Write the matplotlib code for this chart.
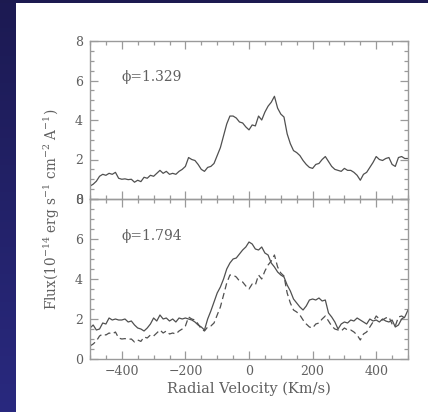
import numpy as np
import matplotlib
matplotlib.use("Agg")
import matplotlib.pyplot as plt
from matplotlib.patches import Rectangle
from matplotlib.ticker import MultipleLocator
from matplotlib.colors import LinearSegmentedColormap

# ---- data ----
velocity = np.arange(-500, 501, 10)

flux_phase_1329 = [
    0.65, 0.75, 0.9, 1.15, 1.25, 1.2, 1.3, 1.25, 1.35, 1.05,
    1.0, 1.02, 0.98, 1.0, 0.85, 0.95, 0.88, 1.1, 1.05, 1.2,
    1.15, 1.3, 1.45, 1.3, 1.4, 1.25, 1.3, 1.25, 1.4, 1.5,
    1.65, 2.1, 2.0, 1.95, 1.75, 1.5, 1.4, 1.6, 1.65, 1.8,
    2.2, 2.6, 3.2, 3.8, 4.2, 4.2, 4.1, 3.9, 3.85, 3.65,
    3.5, 3.75, 3.7, 4.2, 4.0, 4.4, 4.7, 4.9, 5.2, 4.6,
    4.3, 4.15, 3.3, 2.8, 2.45, 2.35, 2.2, 1.95, 1.75, 1.6,
    1.55, 1.75, 1.8, 2.0, 2.15, 1.9, 1.65, 1.5, 1.45, 1.4,
    1.55, 1.45, 1.45, 1.35, 1.2, 0.95, 1.25, 1.35, 1.6, 1.85,
    2.15, 2.0, 1.95, 2.05, 2.1, 1.75, 1.65, 2.1, 2.15, 2.05,
    2.05,
]

flux_phase_1794 = [
    1.55, 1.7, 1.45, 1.5, 1.8, 1.75, 2.05, 1.95, 2.0, 1.95,
    1.95, 2.0, 1.85, 1.9, 1.7, 1.55, 1.5, 1.4, 1.55, 1.75,
    2.05, 1.9, 2.2, 2.0, 2.05, 1.9, 2.0, 1.85, 2.05, 2.0,
    2.05, 2.0, 1.95, 1.85, 1.7, 1.6, 1.45, 2.0, 2.4, 2.85,
    3.3, 3.6, 4.0, 4.5, 4.8, 5.0, 5.05, 5.25, 5.45, 5.6,
    5.85, 5.75, 5.5, 5.45, 5.6, 5.3, 5.2, 4.8, 4.6, 4.35,
    4.2, 4.1, 3.7, 3.4, 3.0, 2.8, 2.6, 2.45, 2.65, 2.95,
    3.0, 2.95, 3.05, 2.9, 2.95, 2.3, 2.1, 1.85, 1.5, 1.75,
    1.85, 1.8, 1.95, 1.9, 2.05, 1.95, 1.85, 1.75, 2.0, 1.9,
    1.95, 1.85, 2.0, 1.9, 1.85, 1.95, 1.6, 1.7, 2.0, 2.1,
    2.45,
]

label_top = "ϕ=1.329"
label_bottom = "ϕ=1.794"
xticks = [-400, -200, 0, 200, 400]
yticks = [0, 2, 4, 6, 8]

# ---- style ----
plt.rcParams['font.family'] = ['DejaVu Serif']
plt.rcParams['mathtext.fontset'] = 'dejavuserif'
text_col = '#606060'
frame_col = '#9a9a9a'
line_col = '#505050'

W, H = 428, 412
fig = plt.figure(figsize=(W / 100, H / 100), dpi=100)
fig.patch.set_facecolor('white')

# background decoration: navy top band and blue gradient left strip
grad_ax = fig.add_axes([0, 0, 16 / W, 1])
grad = np.linspace(0, 1, 256).reshape(-1, 1)
cm = LinearSegmentedColormap.from_list('bg', ['#1c1a52', '#29297f'])
grad_ax.imshow(grad, aspect='auto', cmap=cm, extent=[0, 1, 0, 1], origin='upper')
grad_ax.set_axis_off()
fig.add_artist(Rectangle((0, 1 - 3 / H), 1, 3 / H, transform=fig.transFigure,
                         facecolor='#1c1a50', edgecolor='none'))

left = 90 / W
width = (408 - 90) / W
ax_top = fig.add_axes([left, 1 - 199 / H, width, (199 - 41) / H])
ax_bot = fig.add_axes([left, 1 - 359 / H, width, (359 - 199) / H])

for ax in (ax_top, ax_bot):
    ax.set_xlim(-500, 500)
    ax.set_ylim(0, 8)
    ax.set_xticks(xticks)
    ax.set_yticks(yticks)
    ax.xaxis.set_minor_locator(MultipleLocator(50))
    ax.yaxis.set_minor_locator(MultipleLocator(0.5))
    ax.tick_params(which='both', direction='in', top=True, right=True,
                   color=frame_col, labelcolor=text_col, labelsize=9, width=0.9)
    ax.tick_params(which='major', length=6)
    ax.tick_params(which='minor', length=3)
    ax.tick_params(axis='y', pad=5)
    ax.tick_params(axis='x', pad=4)
    for s in ax.spines.values():
        s.set_color(frame_col)
        s.set_linewidth(1.0)
    ax.set_facecolor('none')

ax_top.tick_params(axis='x', labelbottom=False)

ax_top.plot(velocity, flux_phase_1329, color=line_col, lw=0.9)
ax_bot.plot(velocity, flux_phase_1794, color=line_col, lw=0.9)
ax_bot.plot(velocity, flux_phase_1329, color=line_col, lw=0.9, ls=(0, (5, 3)))

ax_top.text(-400, 6.2, label_top, color=text_col, fontsize=10, ha='left', va='center')
ax_bot.text(-400, 6.15, label_bottom, color=text_col, fontsize=10, ha='left', va='center')

ax_bot.set_xlabel("Radial Velocity (Km/s)", color=text_col, fontsize=10.5, labelpad=3)
fig.text(52 / W, 1 - 209 / H,
         r"Flux(10$^{-14}$ erg s$^{-1}$ cm$^{-2}$ A$^{-1}$)",
         rotation=90, ha='center', va='center', color=text_col, fontsize=9.8)

fig.savefig("out.png", dpi=100)
